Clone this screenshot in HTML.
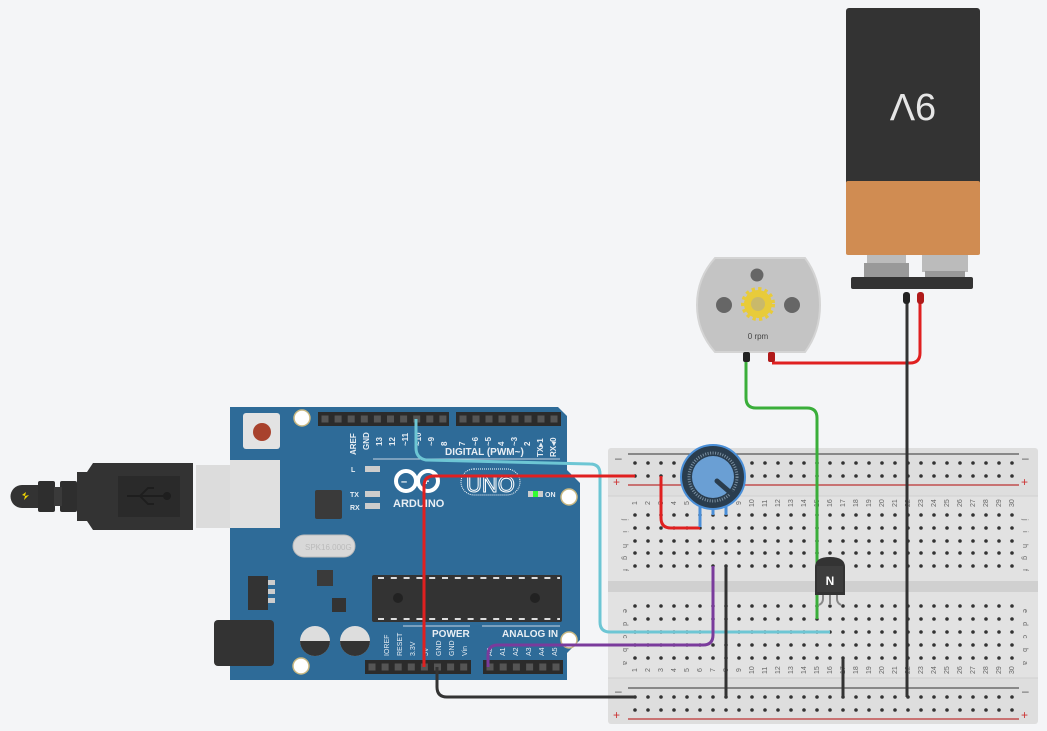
<!DOCTYPE html>
<html><head><meta charset="utf-8"><style>
html,body{margin:0;padding:0;background:#f4f5f7;}
svg{display:block;font-family:"Liberation Sans",sans-serif;}
</style></head><body>
<svg width="1047" height="731" viewBox="0 0 1047 731" xmlns="http://www.w3.org/2000/svg">
<rect width="1047" height="731" fill="#f4f5f7"/>

<!-- USB plug -->
<path d="M22,485 h16 v23 h-16 a11.5,11.5 0 0 1 0,-23z" fill="#333"/>
<rect x="38" y="481" width="17" height="31" rx="2" fill="#2e2e2e"/>
<rect x="60" y="481" width="17" height="31" rx="2" fill="#2e2e2e"/>
<rect x="54" y="487" width="8" height="19" fill="#3a3a3a"/>
<path d="M77,472 h10 l6,-9 h100 v67 h-100 l-6,-9 h-10z" fill="#333"/>
<rect x="118" y="476" width="62" height="41" fill="#2a2a2a"/>
<path d="M127,496 h40 M140,496 l8,-8 h6 M140,496 l8,8 h6" stroke="#1e1e1e" stroke-width="2" fill="none"/>
<circle cx="167" cy="496" r="4" fill="#1e1e1e"/>
<polygon points="22,495 26,492 25,496 29,495 24,500 25,496" fill="#f2d600"/>
<rect x="196" y="465" width="45" height="63" fill="#dcdcdc"/>

<!-- Arduino board -->
<polygon points="230,407 558,407 567,416 567,470 580,483 580,640 567,653 567,680 230,680" fill="#2e6b98"/>
<circle cx="302" cy="418" r="8" fill="#fff" stroke="#c9b882" stroke-width="1.5"/>
<circle cx="569" cy="497" r="8" fill="#fff" stroke="#c9b882" stroke-width="1.5"/>
<circle cx="569" cy="640" r="8" fill="#fff" stroke="#c9b882" stroke-width="1.5"/>
<circle cx="301" cy="666" r="8" fill="#fff" stroke="#c9b882" stroke-width="1.5"/>
<!-- reset -->
<rect x="243" y="413" width="37" height="36" rx="3" fill="#e3e3e3"/>
<circle cx="262" cy="432" r="9" fill="#a8422d"/>
<rect x="230" y="460" width="50" height="68" fill="#e0e0e0"/>
<!-- headers -->
<rect x="318" y="412" width="131" height="14" fill="#2b2b2b"/>
<rect x="456" y="412" width="105" height="14" fill="#2b2b2b"/>
<rect x="365" y="660" width="106" height="14" fill="#2b2b2b"/>
<rect x="483" y="660" width="80" height="14" fill="#2b2b2b"/>
<line x1="321.5" y1="419" x2="449" y2="419" stroke="#555" stroke-width="7" stroke-dasharray="7 6.1"/>
<line x1="459.5" y1="419" x2="561" y2="419" stroke="#555" stroke-width="7" stroke-dasharray="7 6"/>
<line x1="368.5" y1="667" x2="471" y2="667" stroke="#555" stroke-width="7" stroke-dasharray="7 6.1"/>
<line x1="486.5" y1="667" x2="563" y2="667" stroke="#555" stroke-width="7" stroke-dasharray="7 6.2"/>
<g fill="#e8eef4" font-size="8" font-weight="bold">
<text transform="translate(356,455) rotate(-90)">AREF</text>
<text transform="translate(369,450) rotate(-90)">GND</text>
<text transform="translate(382,446) rotate(-90)">13</text>
<text transform="translate(395,446) rotate(-90)">12</text>
<text transform="translate(408,446) rotate(-90)">~11</text>
<text transform="translate(421,446) rotate(-90)">~10</text>
<text transform="translate(434,446) rotate(-90)">~9</text>
<text transform="translate(447,446) rotate(-90)">8</text>
<text transform="translate(465,446) rotate(-90)">7</text>
<text transform="translate(478,446) rotate(-90)">~6</text>
<text transform="translate(491,446) rotate(-90)">~5</text>
<text transform="translate(504,446) rotate(-90)">4</text>
<text transform="translate(517,446) rotate(-90)">~3</text>
<text transform="translate(530,446) rotate(-90)">2</text>
<text transform="translate(543,457) rotate(-90)">TX▸1</text>
<text transform="translate(556,457) rotate(-90)">RX◂0</text>
<text x="445" y="455" font-size="10">DIGITAL (PWM~)</text>
<text x="351" y="472" font-size="7">L</text>
<text x="350" y="497" font-size="7">TX</text>
<text x="350" y="510" font-size="7">RX</text>
<text x="545" y="497" font-size="7">ON</text>
<text x="432" y="637" font-size="10">POWER</text>
<text x="502" y="637" font-size="10">ANALOG IN</text>
<text x="393" y="507" font-size="11">ARDUINO</text>
<g font-size="7" font-weight="normal">
<text transform="translate(389,656) rotate(-90)">IOREF</text>
<text transform="translate(402,656) rotate(-90)">RESET</text>
<text transform="translate(415,656) rotate(-90)">3.3V</text>
<text transform="translate(428,656) rotate(-90)">5V</text>
<text transform="translate(441,656) rotate(-90)">GND</text>
<text transform="translate(454,656) rotate(-90)">GND</text>
<text transform="translate(467,656) rotate(-90)">Vin</text>
<text transform="translate(492,656) rotate(-90)">A0</text>
<text transform="translate(505,656) rotate(-90)">A1</text>
<text transform="translate(518,656) rotate(-90)">A2</text>
<text transform="translate(531,656) rotate(-90)">A3</text>
<text transform="translate(544,656) rotate(-90)">A4</text>
<text transform="translate(557,656) rotate(-90)">A5</text>
</g></g>
<line x1="373" y1="459" x2="560" y2="459" stroke="#c8d6e2" stroke-width="1"/>
<line x1="403" y1="626" x2="470" y2="626" stroke="#c8d6e2" stroke-width="1"/>
<line x1="482" y1="626" x2="560" y2="626" stroke="#c8d6e2" stroke-width="1"/>
<!-- logo -->
<circle cx="406" cy="481" r="10" fill="none" stroke="#fff" stroke-width="4"/>
<circle cx="428" cy="481" r="10" fill="none" stroke="#fff" stroke-width="4"/>
<text x="401" y="485" fill="#fff" font-size="11" font-weight="bold">–</text>
<text x="423" y="485" fill="#fff" font-size="11" font-weight="bold">+</text>
<rect x="461" y="469" width="59" height="26" rx="13" fill="none" stroke="#fff" stroke-width="1" stroke-dasharray="1 1"/>
<text x="466" y="492" fill="#2e6b98" stroke="#fff" stroke-width="1" font-size="22">UNO</text>
<rect x="365" y="466" width="15" height="6" fill="#ccc"/>
<rect x="365" y="491" width="15" height="6" fill="#ccc"/>
<rect x="365" y="503" width="15" height="6" fill="#ccc"/>
<rect x="528" y="491" width="15" height="6" fill="#ccc"/><rect x="533" y="491" width="5" height="6" fill="#3f3"/>
<rect x="315" y="490" width="27" height="29" rx="2" fill="#3a3a3a"/>
<rect x="293" y="535" width="62" height="22" rx="11" fill="#d8d8d8" stroke="#bbb"/>
<text x="305" y="550" font-size="8" fill="#bbb">SPK16.000G</text>
<rect x="317" y="570" width="16" height="16" fill="#3a3a3a"/>
<rect x="248" y="576" width="20" height="34" fill="#333"/>
<rect x="268" y="580" width="7" height="5" fill="#ccc"/><rect x="268" y="589" width="7" height="5" fill="#ccc"/><rect x="268" y="598" width="7" height="5" fill="#ccc"/>
<rect x="332" y="598" width="14" height="14" fill="#333"/>
<rect x="214" y="620" width="60" height="46" rx="4" fill="#333"/>
<circle cx="315" cy="641" r="15" fill="#ddd"/><path d="M300,641 a15,15 0 0 0 30,0z" fill="#333"/>
<circle cx="355" cy="641" r="15" fill="#ddd"/><path d="M340,641 a15,15 0 0 0 30,0z" fill="#333"/>
<!-- chip -->
<rect x="372" y="575" width="190" height="47" rx="2" fill="#333"/>
<line x1="378" y1="578" x2="560" y2="578" stroke="#ddd" stroke-width="2" stroke-dasharray="6 6.8"/>
<line x1="378" y1="619" x2="560" y2="619" stroke="#ddd" stroke-width="2" stroke-dasharray="6 6.8"/>
<circle cx="398" cy="598" r="5" fill="#222"/><circle cx="535" cy="598" r="5" fill="#222"/>

<!-- Breadboard -->
<rect x="608" y="448" width="430" height="276" rx="3" fill="#dedede"/>
<rect x="608" y="496" width="430" height="182" fill="#e2e2e2"/>
<rect x="608" y="581" width="430" height="11" fill="#d0d0d0"/>
<line x1="608" y1="496" x2="1038" y2="496" stroke="#d0d0d0"/>
<line x1="608" y1="678" x2="1038" y2="678" stroke="#d0d0d0"/>
<line x1="628" y1="454" x2="1019" y2="454" stroke="#555" stroke-width="1.2"/>
<line x1="628" y1="485" x2="1019" y2="485" stroke="#b33" stroke-width="1.2"/>
<line x1="628" y1="688" x2="1019" y2="688" stroke="#555" stroke-width="1.2"/>
<line x1="628" y1="719" x2="1019" y2="719" stroke="#b33" stroke-width="1.2"/>
<g font-size="12" fill="#555"><text x="615" y="462">–</text><text x="1022" y="462">–</text>
<text x="613" y="486" fill="#c33">+</text><text x="1021" y="486" fill="#c33">+</text>
<text x="615" y="695">–</text><text x="1022" y="695">–</text>
<text x="613" y="719" fill="#c33">+</text><text x="1021" y="719" fill="#c33">+</text></g>
<g stroke="#333" stroke-width="3.6" stroke-linecap="round" stroke-dasharray="0 13">
<line x1="635" y1="463" x2="1013" y2="463"/><line x1="635" y1="476" x2="1013" y2="476"/>
<line x1="635" y1="515" x2="1013" y2="515"/><line x1="635" y1="528" x2="1013" y2="528"/>
<line x1="635" y1="541" x2="1013" y2="541"/><line x1="635" y1="553" x2="1013" y2="553"/>
<line x1="635" y1="566" x2="1013" y2="566"/>
<line x1="635" y1="606" x2="1013" y2="606"/><line x1="635" y1="619" x2="1013" y2="619"/>
<line x1="635" y1="632" x2="1013" y2="632"/><line x1="635" y1="645" x2="1013" y2="645"/>
<line x1="635" y1="658" x2="1013" y2="658"/>
<line x1="635" y1="697" x2="1013" y2="697"/><line x1="635" y1="710" x2="1013" y2="710"/>
</g>
<g font-size="7" fill="#666">
<g id="nums">
<text transform="translate(637,505) rotate(-90)">1</text><text transform="translate(650,505) rotate(-90)">2</text><text transform="translate(663,505) rotate(-90)">3</text><text transform="translate(676,505) rotate(-90)">4</text><text transform="translate(689,505) rotate(-90)">5</text><text transform="translate(702,505) rotate(-90)">6</text><text transform="translate(715,505) rotate(-90)">7</text><text transform="translate(728,505) rotate(-90)">8</text><text transform="translate(741,505) rotate(-90)">9</text><text transform="translate(754,507) rotate(-90)">10</text><text transform="translate(767,507) rotate(-90)">11</text><text transform="translate(780,507) rotate(-90)">12</text><text transform="translate(793,507) rotate(-90)">13</text><text transform="translate(806,507) rotate(-90)">14</text><text transform="translate(819,507) rotate(-90)">15</text><text transform="translate(832,507) rotate(-90)">16</text><text transform="translate(845,507) rotate(-90)">17</text><text transform="translate(858,507) rotate(-90)">18</text><text transform="translate(871,507) rotate(-90)">19</text><text transform="translate(884,507) rotate(-90)">20</text><text transform="translate(897,507) rotate(-90)">21</text><text transform="translate(910,507) rotate(-90)">22</text><text transform="translate(923,507) rotate(-90)">23</text><text transform="translate(936,507) rotate(-90)">24</text><text transform="translate(949,507) rotate(-90)">25</text><text transform="translate(962,507) rotate(-90)">26</text><text transform="translate(975,507) rotate(-90)">27</text><text transform="translate(988,507) rotate(-90)">28</text><text transform="translate(1001,507) rotate(-90)">29</text><text transform="translate(1014,507) rotate(-90)">30</text>
</g>
<use href="#nums" y="167"/>
<text transform="translate(623,519) rotate(90)">j</text><text transform="translate(623,531) rotate(90)">i</text><text transform="translate(623,544) rotate(90)">h</text><text transform="translate(623,556) rotate(90)">g</text><text transform="translate(623,569) rotate(90)">f</text>
<text transform="translate(623,609) rotate(90)">e</text><text transform="translate(623,622) rotate(90)">d</text><text transform="translate(623,635) rotate(90)">c</text><text transform="translate(623,648) rotate(90)">b</text><text transform="translate(623,661) rotate(90)">a</text>
<text transform="translate(1023,519) rotate(90)">j</text><text transform="translate(1023,531) rotate(90)">i</text><text transform="translate(1023,544) rotate(90)">h</text><text transform="translate(1023,556) rotate(90)">g</text><text transform="translate(1023,569) rotate(90)">f</text>
<text transform="translate(1023,609) rotate(90)">e</text><text transform="translate(1023,622) rotate(90)">d</text><text transform="translate(1023,635) rotate(90)">c</text><text transform="translate(1023,648) rotate(90)">b</text><text transform="translate(1023,661) rotate(90)">a</text>
</g>

<!-- Battery -->
<rect x="846" y="8" width="134" height="200" rx="3" fill="#333"/>
<rect x="846" y="181" width="134" height="74" rx="2" fill="#d08c52"/>
<text x="913" y="122" fill="#e6e6e6" font-size="38" text-anchor="middle" transform="rotate(180 913 108)">9V</text>
<rect x="867" y="255" width="39" height="9" fill="#bbb"/>
<rect x="864" y="263" width="45" height="15" fill="#999"/>
<rect x="922" y="255" width="46" height="17" fill="#bbb"/>
<rect x="925" y="271" width="40" height="7" fill="#999"/>
<rect x="851" y="277" width="122" height="12" rx="2" fill="#333"/>

<!-- Motor -->
<path d="M715,258 h90 q15,20 15,47 q0,27 -15,47 h-90 q-18,-20 -18,-47 q0,-27 18,-47z" fill="#c4c4c4" stroke="#d4d4d4" stroke-width="2"/>
<circle cx="757" cy="275" r="6.5" fill="#666"/>
<circle cx="724" cy="305" r="8" fill="#666"/>
<circle cx="792" cy="305" r="8" fill="#666"/>
<circle cx="758" cy="304" r="14" fill="#e8cb3a" stroke="#e8cb3a" stroke-width="6" stroke-dasharray="3 3"/>
<circle cx="758" cy="304" r="7" fill="#c9b96a"/>
<text x="758" y="339" font-size="8" fill="#444" text-anchor="middle">0 rpm</text>

<!-- Wires -->
<g fill="none" stroke-width="3" stroke-linejoin="round">
<path d="M920,300 V353 q0,10 -10,10 H772" stroke="#e02020"/>
<path d="M907,300 V697" stroke="#333"/>
<path d="M746,360 V398 q0,10 10,10 H807 q10,0 10,10 V619" stroke="#3aae3a"/>
<path d="M416,419 V448 q0,10 10,12 L590,464 q10,0 10,10 V622 q0,10 10,10 H830" stroke="#6dc6d4"/>
<path d="M635,476 H434 q-10,0 -10,10 V667" stroke="#e02020"/>
<path d="M661,476 V518 q0,10 10,10 H700" stroke="#e02020"/>
<path d="M488,667 V655 q0,-10 10,-10 H703 q10,0 10,-10 V566" stroke="#7a3b9c"/>
<path d="M437,667 V687 q0,10 10,10 H635" stroke="#333"/>
<path d="M726,566 V697" stroke="#333"/>
<path d="M843,658 V697" stroke="#333"/>
</g>
<rect x="903" y="292" width="7" height="12" rx="3" fill="#222"/>
<rect x="917" y="292" width="7" height="12" rx="3" fill="#b01a1a"/>
<rect x="743" y="352" width="7" height="10" rx="2" fill="#222"/>
<rect x="768" y="352" width="7" height="10" rx="2" fill="#b01a1a"/>

<!-- Potentiometer -->
<g stroke="#4a8fd8" stroke-width="3"><line x1="700" y1="505" x2="700" y2="527"/><line x1="713" y1="505" x2="713" y2="515"/><line x1="726" y1="505" x2="726" y2="515"/></g>
<circle cx="713" cy="477" r="32" fill="#2a3d4e" stroke="#4a8fd8" stroke-width="2"/>
<circle cx="713" cy="477" r="24" fill="none" stroke="#7a8fa0" stroke-width="3" stroke-dasharray="1 1.5"/>
<circle cx="713" cy="477" r="21" fill="#6a9fd4"/>
<line x1="717" y1="481" x2="732" y2="494" stroke="#2a3d4e" stroke-width="5" stroke-linecap="round"/>

<!-- Transistor -->
<g stroke="#888" stroke-width="2" fill="none"><path d="M823,593 v6 q0,4 -4,6"/><path d="M830,593 v12"/><path d="M837,593 v6 q0,4 4,6"/></g>
<path d="M815,567 q0,-10 15,-10 q15,0 15,10 v28 h-30z" fill="#333"/>
<rect x="817" y="566" width="26" height="26" fill="#3d3d3d"/>
<text x="830" y="585" fill="#fff" font-size="12" font-weight="bold" text-anchor="middle">N</text>
</svg>
</body></html>
